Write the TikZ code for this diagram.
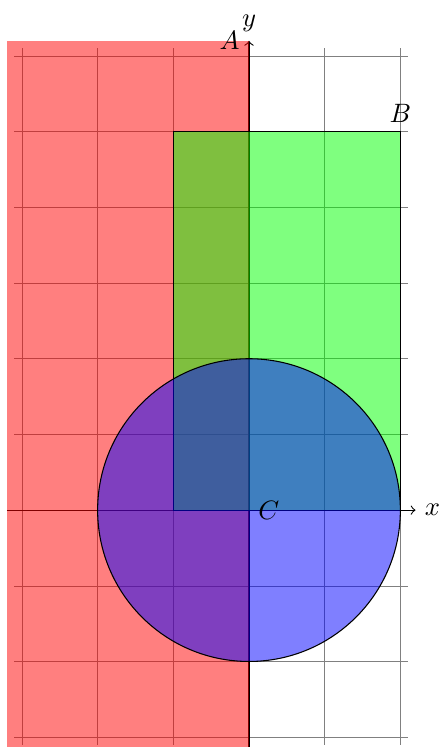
\documentclass[tikz,border=0pt]{standalone}
\begin{document}
\begin{tikzpicture}
\useasboundingbox (-3.29,-3.13) rectangle (2.54,6.74);
\tikzset{
  gridlines/.style={help lines},
  axisline/.style={->},
  fillred/.style={fill=red, fill opacity=0.5},
  boxgreen/.style={draw=black, fill=green, fill opacity=0.5},
  discblue/.style={draw=black, fill=blue, fill opacity=0.5},
}
\draw[gridlines] (-3.1,-3.1) grid (2.1,6.1);
\coordinate (xs) at (-3.2,0);
\coordinate (xe) at (2.2,0);
\coordinate (ys) at (0,-3.2);
\coordinate (ye) at (0,6.2);
\draw[axisline] (xs) -- (xe) node[right] (xl) {$x$};
\draw[axisline] (ys) -- (ye) node[above] (yl) {$y$};
\fill[fillred] (-3.2,-3.2) rectangle (0,6.2);
\filldraw[boxgreen] (-1,0) rectangle (2,5);
\filldraw[discblue] (0,0) circle (2);
\node[left] (A) at (0,6.2) {$A$};
\node[above] (B) at (2,5) {$B$};
\node[right] (C) at (0,0) {$C$};
\end{tikzpicture}
\end{document}
